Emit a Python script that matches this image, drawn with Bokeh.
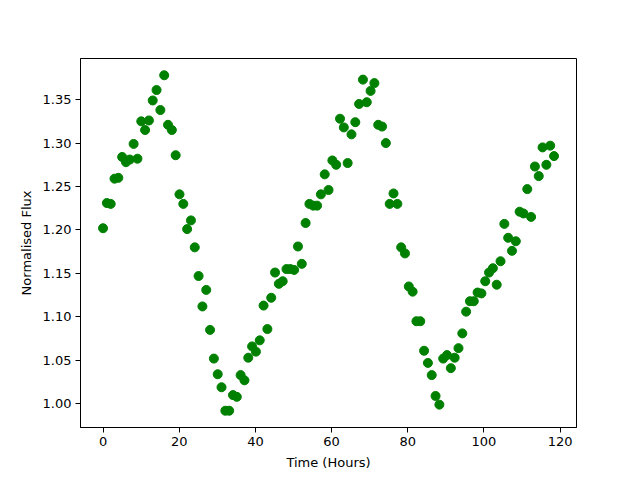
from bokeh.plotting import figure
from bokeh.models import FixedTicker, NumeralTickFormatter, Range1d
from bokeh.embed import file_html
from bokeh.resources import INLINE

flux = [1.202, 1.231, 1.230, 1.259, 1.260, 1.284, 1.278, 1.281, 1.299, 1.282,
        1.325, 1.315, 1.326, 1.349, 1.361, 1.338, 1.378, 1.321, 1.315, 1.286,
        1.241, 1.230, 1.201, 1.211, 1.180, 1.147, 1.112, 1.131, 1.085, 1.052,
        1.034, 1.019, 0.992, 0.992, 1.010, 1.008, 1.033, 1.027, 1.053, 1.066,
        1.060, 1.073, 1.113, 1.086, 1.122, 1.151, 1.138, 1.141, 1.155, 1.155,
        1.154, 1.181, 1.161, 1.208, 1.230, 1.228, 1.228, 1.241, 1.264, 1.246,
        1.280, 1.275, 1.328, 1.318, 1.277, 1.310, 1.324, 1.345, 1.373, 1.347,
        1.360, 1.369, 1.321, 1.319, 1.300, 1.230, 1.242, 1.230, 1.180, 1.173,
        1.135, 1.129, 1.095, 1.095, 1.061, 1.047, 1.033, 1.009, 0.999, 1.052,
        1.056, 1.041, 1.053, 1.064, 1.081, 1.106, 1.118, 1.118, 1.128, 1.127,
        1.141, 1.151, 1.156, 1.137, 1.164, 1.207, 1.191, 1.176, 1.187, 1.221,
        1.219, 1.247, 1.215, 1.273, 1.262, 1.295, 1.275, 1.297, 1.285]
time_hours = [i * 1.0034 for i in range(len(flux))]

x_ticks = [0, 20, 40, 60, 80, 100, 120]
y_ticks = [1.00, 1.05, 1.10, 1.15, 1.20, 1.25, 1.30, 1.35]

FONT = "DejaVu Sans"

p = figure(width=640, height=480, output_backend="svg", toolbar_location=None,
           min_border_left=80, min_border_right=64, min_border_top=58, min_border_bottom=53)
p.x_range = Range1d(-5.92, 124.3)
p.y_range = Range1d(0.9727, 1.3973)

p.scatter(time_hours, flux, size=9, color="#008000", line_color="#008000")

p.xgrid.visible = False
p.ygrid.visible = False
p.outline_line_color = "black"
p.outline_line_width = 1
p.background_fill_color = "white"
p.border_fill_color = "white"

p.xaxis.ticker = FixedTicker(ticks=x_ticks)
p.yaxis.ticker = FixedTicker(ticks=y_ticks)
p.yaxis.formatter = NumeralTickFormatter(format="0.00")
p.xaxis.axis_label = "Time (Hours)"
p.yaxis.axis_label = "Normalised Flux"

for ax in (p.xaxis[0], p.yaxis[0]):
    ax.major_tick_in = 0
    ax.major_tick_out = 5
    ax.minor_tick_in = 0
    ax.minor_tick_out = 0
    ax.axis_line_color = "black"
    ax.major_tick_line_color = "black"
    ax.major_label_text_font = FONT
    ax.major_label_text_font_size = "13px"
    ax.major_label_text_color = "black"
    ax.axis_label_text_font = FONT
    ax.axis_label_text_font_size = "13px"
    ax.axis_label_text_font_style = "normal"
    ax.axis_label_text_color = "black"
    ax.major_label_standoff = 4
    ax.axis_label_standoff = 6

open("out.html", "w").write(file_html(p, INLINE))
